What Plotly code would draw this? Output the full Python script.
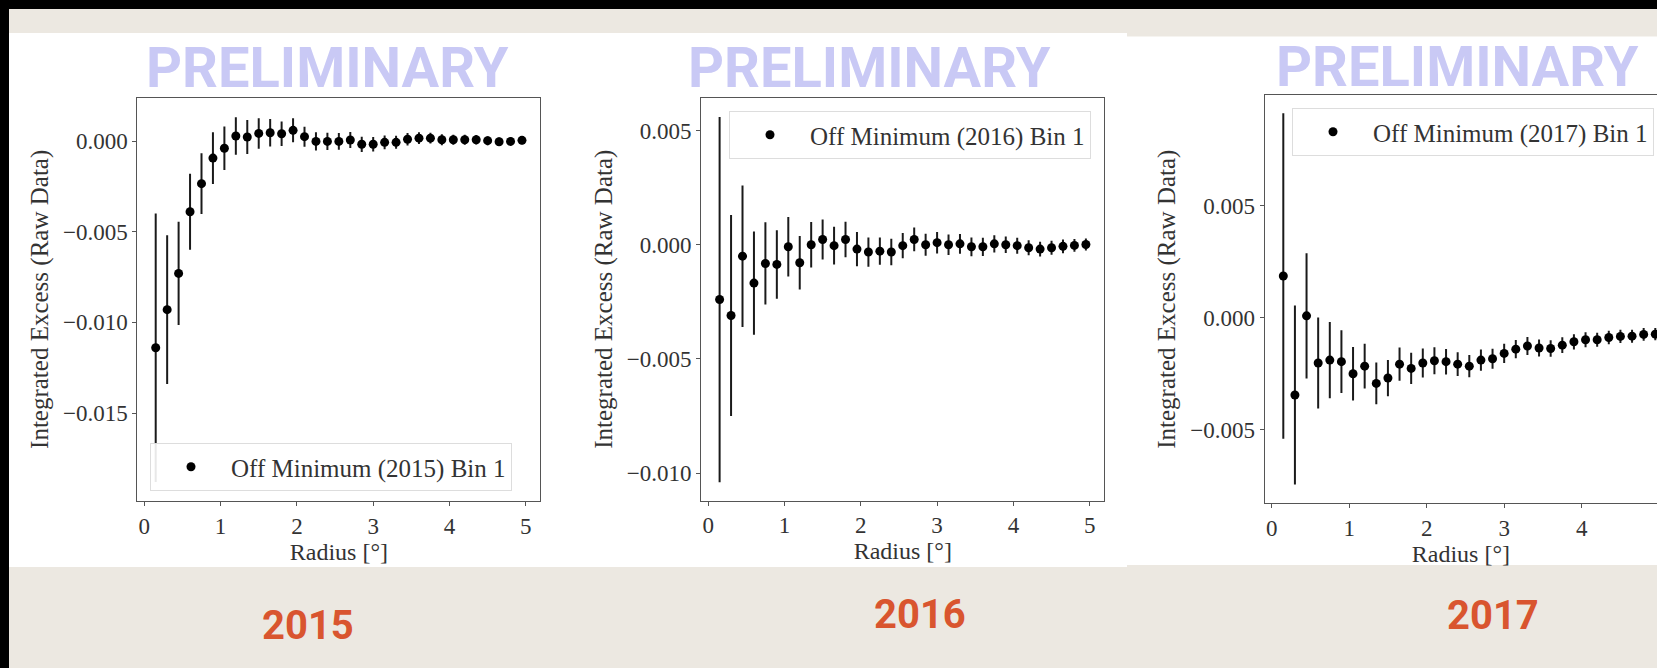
import plotly.graph_objects as go

W, H = 1657, 668

# ---------------- data ----------------
radius = [0.15, 0.30, 0.45, 0.60, 0.75, 0.90, 1.05, 1.20, 1.35, 1.50, 1.65,
          1.80, 1.95, 2.10, 2.25, 2.40, 2.55, 2.70, 2.85, 3.00, 3.15, 3.30,
          3.45, 3.60, 3.75, 3.90, 4.05, 4.20, 4.35, 4.50, 4.65, 4.80, 4.95]

excess_2015 = [-0.0114, -0.0093, -0.0073, -0.0039, -0.00235, -0.00094, -0.0004,
               0.00028, 0.00022, 0.00042, 0.00046, 0.0004, 0.00059, 0.00024,
               -0.00002, -0.00002, -0.00002, 0.00006, -0.00018, -0.00018,
               -0.00007, -0.00007, 0.0001, 0.00016, 0.00016, 0.00007, 0.00007,
               0.00007, 0.00007, 0.00002, -0.00004, -0.00002, 0.00004]
err_2015 = [0.0074, 0.0041, 0.00285, 0.0021, 0.00168, 0.00143, 0.0012, 0.00103,
            0.00094, 0.00084, 0.00076, 0.00068, 0.00066, 0.00055, 0.0005,
            0.00048, 0.00046, 0.00044, 0.00042, 0.0004, 0.00038, 0.00036,
            0.00034, 0.00032, 0.0003, 0.0003, 0.00028, 0.00027, 0.00026,
            0.00025, 0.00024, 0.00023, 0.00022]

excess_2016 = [-0.0024, -0.0031, -0.0005, -0.00168, -0.00082, -0.00086, -0.00009,
               -0.00079, 0.0, 0.00023, -0.00004, 0.00023, -0.00019, -0.00032,
               -0.00028, -0.00032, -0.00004, 0.00023, 0.0, 0.00009, 0.0, 0.00004,
               -0.00009, -0.00009, 0.00004, 0.0, -0.00004, -0.00013, -0.00019,
               -0.00013, -0.00007, -0.00003, 0.00001]
err_2016 = [0.0080, 0.0044, 0.0031, 0.00226, 0.0018, 0.0015, 0.0013, 0.00117,
            0.001, 0.00088, 0.00083, 0.00078, 0.00075, 0.00064, 0.0006, 0.00058,
            0.00055, 0.00052, 0.00048, 0.00047, 0.00045, 0.00043, 0.00041,
            0.0004, 0.00038, 0.00036, 0.00035, 0.00033, 0.00032, 0.00031,
            0.0003, 0.00028, 0.00026]

excess_2017 = [0.00187, -0.00345, 0.00009, -0.00202, -0.00189, -0.00196, -0.0025,
               -0.00216, -0.00293, -0.00269, -0.00207, -0.00226, -0.00202,
               -0.00192, -0.00196, -0.00207, -0.00216, -0.00189, -0.00183,
               -0.00159, -0.0014, -0.00126, -0.00135, -0.00137, -0.00122,
               -0.00107, -0.00098, -0.00098, -0.00088, -0.00083, -0.00082,
               -0.00074, -0.00073]
err_2017 = [0.00727, 0.004, 0.0028, 0.00203, 0.0017, 0.0014, 0.0012, 0.001,
            0.00093, 0.00081, 0.00074, 0.0007, 0.00065, 0.0006, 0.00057,
            0.00053, 0.0005, 0.00047, 0.00045, 0.00043, 0.00041, 0.0004,
            0.00038, 0.00037, 0.00035, 0.00034, 0.00033, 0.00031, 0.0003,
            0.0003, 0.00029, 0.00028, 0.00027]

years = ["2015", "2016", "2017"]
series_names = ["Off Minimum (2015) Bin 1", "Off Minimum (2016) Bin 1",
                "Off Minimum (2017) Bin 1"]
x_title = "Radius [°]"
y_title = "Integrated Excess (Raw Data)"
watermark = "PRELIMINARY"

# ---------------- layout helpers ----------------
def px(x):
    return x / W

def py(y):
    return 1 - y / H

SERIF = "Liberation Serif, Times New Roman, serif"
HEAVY = "Roboto, Liberation Sans, sans-serif"
TXT = "#333333"
SPINE = "#555555"

panels = [
    dict(x=(137.4, 540.3), y=(97.7, 501.0), xr=[-0.09, 5.19], yr=[-0.01985, 0.00239],
         leg=(150, 443), mirror=True, data=excess_2015, err=err_2015),
    dict(x=(701.3, 1104.2), y=(97.7, 500.7), xr=[-0.09, 5.19], yr=[-0.01121, 0.00644],
         leg=(729, 111), mirror=True, data=excess_2016, err=err_2016),
    dict(x=(1264.7, 1657.0), y=(95.0, 503.3), xr=[-0.09, 4.972], yr=[-0.00829, 0.00996],
         leg=(1292, 108), mirror=False, data=excess_2017, err=err_2017),
]

fig = go.Figure()

layout = dict(
    width=W, height=H,
    margin=dict(l=0, r=0, t=0, b=0),
    paper_bgcolor="#ECE8E1",
    plot_bgcolor="white",
    showlegend=True,
    shapes=[],
    annotations=[],
)

# background pieces (slide look)
bg_shapes = [
    dict(x0=9, x1=1127, y0=33, y1=567, color="white"),
    dict(x0=1127, x1=W, y0=36.5, y1=565, color="white"),
    dict(x0=0, x1=W, y0=0, y1=9, color="black"),
    dict(x0=0, x1=9, y0=0, y1=H, color="black"),
]
for s in bg_shapes:
    layout["shapes"].append(dict(
        type="rect", xref="paper", yref="paper", layer="below",
        x0=px(s["x0"]), x1=px(s["x1"]), y0=py(s["y1"]), y1=py(s["y0"]),
        fillcolor=s["color"], line=dict(width=0)))

for i, p in enumerate(panels):
    n = "" if i == 0 else str(i + 1)
    xa, ya = "xaxis" + n, "yaxis" + n
    leg = "legend" + n
    fig.add_trace(go.Scatter(
        x=radius, y=p["data"], mode="markers", name=series_names[i],
        xaxis="x" + n, yaxis="y" + n, legend=leg,
        marker=dict(color="black", size=9),
        error_y=dict(type="data", array=p["err"], visible=True,
                     thickness=2, width=0, color="#1a1a1a"),
        cliponaxis=True,
    ))
    layout[xa] = dict(
        domain=[px(p["x"][0]), px(p["x"][1])], range=p["xr"],
        anchor="y" + n, tickmode="linear", tick0=0, dtick=1,
        showgrid=False, zeroline=False, showline=True, linecolor=SPINE,
        linewidth=1.2, mirror=True, ticks="outside", ticklen=4, tickwidth=1,
        tickcolor=SPINE, tickfont=dict(family=SERIF, size=23, color=TXT),
        title=dict(text=x_title, font=dict(family=SERIF, size=24, color=TXT),
                   standoff=0),
    )
    layout[ya] = dict(
        domain=[py(p["y"][1]), py(p["y"][0])], range=p["yr"],
        anchor="x" + n, tickmode="linear", tick0=0, dtick=0.005,
        tickformat=".3f",
        showgrid=False, zeroline=False, showline=True, linecolor=SPINE,
        linewidth=1.2, mirror=p["mirror"], ticks="outside", ticklen=4,
        tickwidth=1, tickcolor=SPINE,
        tickfont=dict(family=SERIF, size=23, color=TXT),
        title=dict(text=y_title, font=dict(family=SERIF, size=25, color=TXT),
                   standoff=7),
    )
    layout[leg] = dict(
        x=px(p["leg"][0]), y=py(p["leg"][1]), xanchor="left", yanchor="top",
        xref="paper", yref="paper",
        bgcolor="rgba(255,255,255,0.9)", bordercolor="#DDDDDD", borderwidth=1,
        font=dict(family=SERIF, size=25, color=TXT), itemwidth=70,
    )

# watermarks and year captions
wm_pos = [(327.8, 67.5), (869.8, 67.5), (1457.8, 66.5)]
for (cx, cy) in wm_pos:
    layout["annotations"].append(dict(
        text=watermark, x=px(cx), y=py(cy), xref="paper", yref="paper",
        xanchor="center", yanchor="middle", showarrow=False,
        font=dict(family=HEAVY, size=56, color="#C9C9F5", weight="bold")))

year_pos = [(307.8, 625.5), (920.0, 614.0), (1493.0, 615.0)]
for yr, (cx, cy) in zip(years, year_pos):
    layout["annotations"].append(dict(
        text=yr, x=px(cx), y=py(cy), xref="paper", yref="paper",
        xanchor="center", yanchor="middle", showarrow=False,
        font=dict(family=HEAVY, size=40, color="#D9552F", weight="bold")))

fig.update_layout(**layout)
fig.write_html("out.html")
